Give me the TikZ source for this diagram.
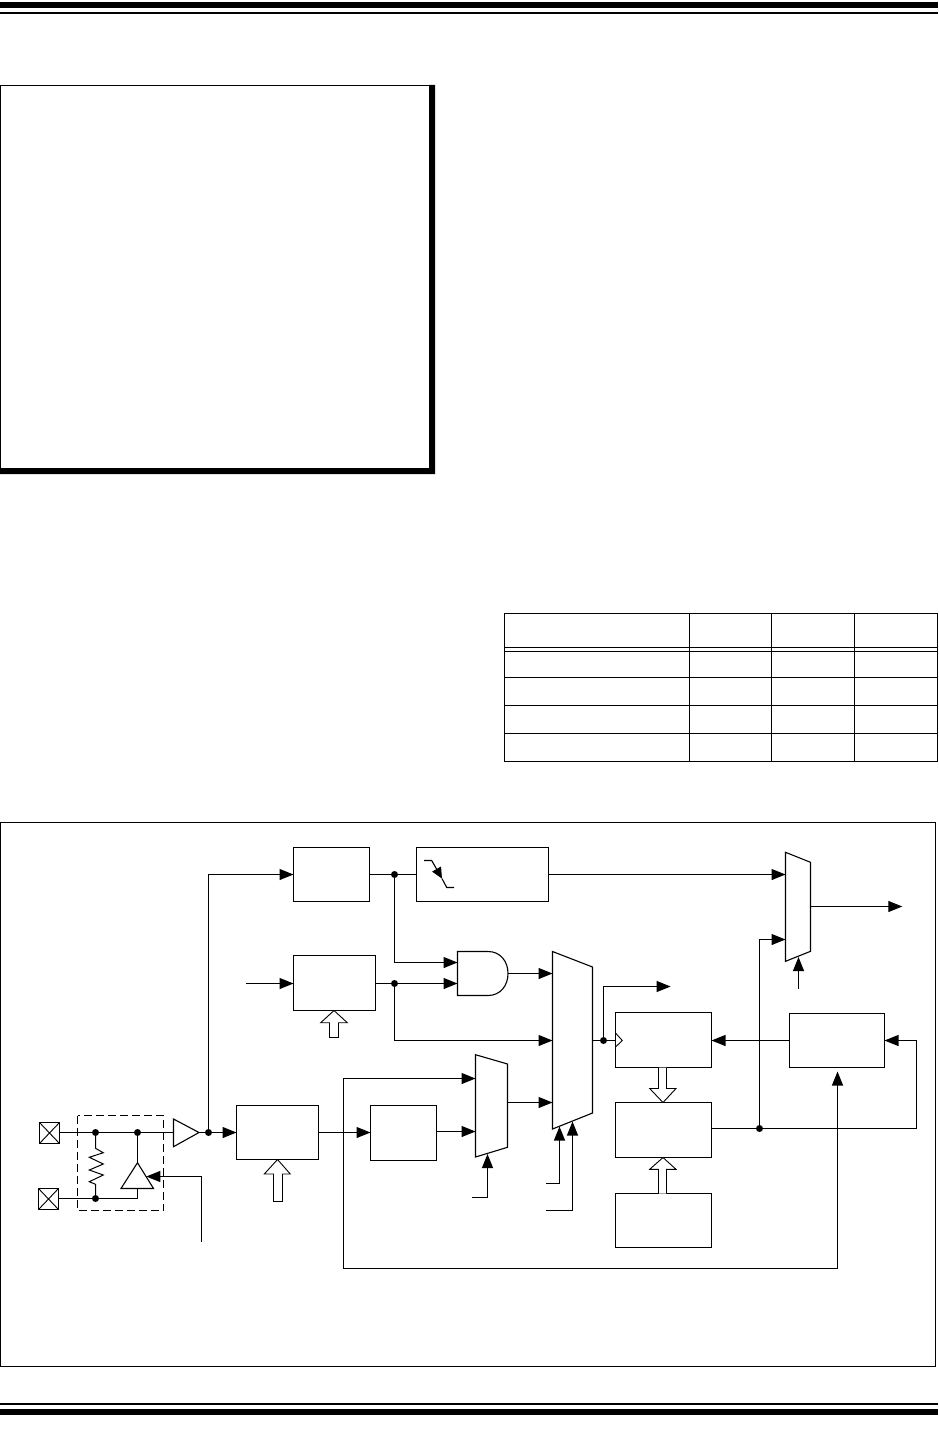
\documentclass[tikz,border=0pt]{standalone}
\usetikzlibrary{arrows.meta}
\begin{document}
\begin{tikzpicture}[x=1pt,y=-1pt,line width=1.1pt,
    blockbox/.style={draw,rectangle,inner sep=0pt,outer sep=0pt},
    junction/.style={circle,fill,inner sep=0pt,outer sep=0pt,minimum size=7pt},
    sig/.style={-{Triangle[length=14pt,width=11pt]}},
    hollow/.style={draw,fill=white,line width=0.9pt}]
  \useasboundingbox (0,0) rectangle (938,1431);

  % Page rules
  \fill (0,2) rectangle (938,8);
  \fill (0,12) rectangle (938,14);
  \fill (0,1403) rectangle (938,1405);
  \fill (0,1409) rectangle (938,1415);

  % Empty boxed panel with a heavy edge
  \draw (429,85.5) -- (0.5,85.5) -- (0.5,468);
  \fill (429,85) -- (435,85) -- (435,474) -- (0,474) -- (0,468) -- (429,468) -- cycle;

  % Table
  \foreach \y in {613.5,647.5,651.5,677.5,705.5,733.5,761.5}{
      \draw (504,\y) -- (938,\y);
    }
  \foreach \x in {504.5,689.5,771.5,854.5,937.5}{
      \draw (\x,613) -- (\x,762);
    }

  % Figure frame
  \draw (0.5,822.5) rectangle (935.5,1366.5);

  % Blocks
  \node[blockbox,minimum width=76pt,minimum height=54pt] (divbox) at (331.5,874.5) {};
  \node[blockbox,minimum width=132pt,minimum height=54pt] (edgebox) at (482.5,874.5) {};
  \node[blockbox,minimum width=82pt,minimum height=55pt] (prebox) at (334.5,983) {};
  \node[blockbox,minimum width=82pt,minimum height=54pt] (inbox) at (277.5,1132.5) {};
  \node[blockbox,minimum width=66pt,minimum height=55pt] (syncbox) at (403.5,1133) {};
  \node[blockbox,minimum width=96pt,minimum height=55pt] (regbox) at (663.5,1040) {};
  \node[blockbox,minimum width=96pt,minimum height=55pt] (cmpbox) at (663.5,1130) {};
  \node[blockbox,minimum width=96pt,minimum height=54pt] (perbox) at (663.5,1220.5) {};
  \node[blockbox,minimum width=95pt,minimum height=54pt] (logicbox) at (837,1040.5) {};

  % Pins
  \node[blockbox,minimum width=20pt,minimum height=21pt] (pinA) at (49.5,1133) {};
  \node[blockbox,minimum width=20pt,minimum height=21pt] (pinB) at (48.5,1199) {};
  \draw[line width=0.9pt] (pinA.north west) -- (pinA.south east) (pinA.north east) -- (pinA.south west);
  \draw[line width=0.9pt] (pinB.north west) -- (pinB.south east) (pinB.north east) -- (pinB.south west);

  % Junctions
  \node[junction] (jA) at (95.5,1132.5) {};
  \node[junction] (jB) at (137.5,1132.5) {};
  \node[junction] (jC) at (95.5,1198.5) {};
  \node[junction] (jD) at (208.5,1132.5) {};
  \node[junction] (jE) at (394.5,874.5) {};
  \node[junction] (jF) at (394.5,983.5) {};
  \node[junction] (jG) at (603.5,1040.5) {};
  \node[junction] (jH) at (759.5,1128.5) {};

  % Multiplexers
  \draw (785.5,852.3) -- (810.5,862.3) -- (810.5,951.3) -- (785.5,961.3) -- cycle;
  \draw (552.5,951.5) -- (592.5,967) -- (592.5,1113) -- (552.5,1129) -- cycle;
  \draw (475.5,1054.7) -- (507.5,1064) -- (507.5,1147.3) -- (475.5,1157) -- cycle;

  % AND gate
  \draw (457.5,951.5) -- (488,951.5) .. controls (500.2,951.5) and (508,961.2) .. (508,973.5)
    .. controls (508,985.8) and (500.2,995.5) .. (488,995.5) -- (457.5,995.5) -- cycle;

  % Input cell
  \draw[dashed,dash pattern=on 8pt off 4pt] (77.5,1115.5) rectangle (163.5,1210.5);
  \draw (173.5,1119) -- (173.5,1146.7) -- (199,1132.5) -- cycle;
  \draw (137.5,1162.7) -- (153.5,1188.5) -- (121,1188.5) -- cycle;
  \draw[line width=1pt] (jA) -- (95.5,1148.3) -- (103.3,1152.7) -- (89.3,1157.3) -- (103.3,1164)
    -- (89.3,1170) -- (103.3,1175) -- (89.3,1181.7) -- (95.5,1184.3) -- (jC);
  \draw (pinA.east |- jA) -- (173.5,1132.5);
  \draw (jB) -- (137.5,1162.7);
  \draw (pinB.east |- jC) -- (jC) -- (137.5,1198.5) -- (137.5,1188.5);
  \coordinate (enA) at (201.5,1241.7);
  \draw[sig] (enA) |- (146.3,1176.5);

  % Clock edge symbol
  \draw[-{Triangle[length=11pt,width=10pt]}] (424,860.5) -- (431.7,860.5) -- (442,878.6);
  \draw (442,878.6) -- (446.7,887.5) -- (454,887.5);

  % Connectors on the left
  \draw[sig] (199,1132.5) -- (inbox.west);
  \draw[sig] (jD) |- (divbox.west);
  \draw (divbox.east) -- (edgebox.west);
  \draw[sig] (jE) |- (457.5,962.5);
  \coordinate (inP) at (246,983.5);
  \draw[sig] (inP) -- (inP -| prebox.west);
  \draw[sig] (inP -| prebox.east) -- (457.5,983.5);
  \draw[sig] (jF) |- (552.5,1040.5);
  \draw[sig] (508,973.5) -- (552.5,973.5);
  \draw[sig] (inbox.east) -- (inbox.east -| syncbox.west);
  \draw[sig] (syncbox.east |- 475.5,1131.5) -- (475.5,1131.5);
  \draw[sig] (507.5,1102.5) -- (552.5,1102.5);

  % Long feedback
  \coordinate (fbA) at (343.5,1132.5);
  \coordinate (fbB) at (837.5,1268.5);
  \draw[sig] (fbA) |- (475.5,1078.5);
  \draw[sig] (fbA) |- (fbB) -- (837.5,1071.5);

  % Select lines
  \coordinate (selA) at (472,1197.5);
  \coordinate (selB) at (546,1183.5);
  \coordinate (selC) at (545.5,1210.5);
  \coordinate (selD) at (798.5,988.7);
  \draw[sig] (selA) -| (487.5,1154);
  \draw[sig] (selB) -| (559.5,1126.5);
  \draw[sig] (selC) -| (572.5,1121.5);
  \draw[sig] (selD) -- (798.5,957);

  % Connectors on the right
  \draw (592.5,1040.5) -- (615.5,1040.5);
  \draw[sig] (jG) |- (670.6,986.5);
  \draw[line width=0.9pt] (615.5,1033) -- (622.3,1040.5) -- (615.5,1047);
  \draw[sig] (logicbox.west) -- (logicbox.west -| regbox.east);
  \draw (cmpbox.east |- jH) -- (jH);
  \coordinate (fbC) at (916.5,1128.5);
  \draw[sig] (jH) -- (fbC) |- (logicbox.east);
  \draw[sig] (jH) |- (785.5,939.5);
  \draw[sig] (edgebox.east) -- (785.5,874.5);
  \draw[sig] (810.5,906.5) -- (902.3,906.5);

  % Bus arrows
  \draw[hollow] (329.5,1037.5) -- (329.5,1022.7) -- (320.7,1022.7) -- (334,1010.5)
    -- (347.3,1022.7) -- (338.5,1022.7) -- (338.5,1037.5) -- cycle;
  \draw[hollow] (273.5,1201.5) -- (273.5,1174) -- (264.3,1174) -- (277.5,1159.5)
    -- (290.3,1174) -- (282.5,1174) -- (282.5,1201.5) -- cycle;
  \draw[hollow] (658.5,1067.5) -- (658.5,1088.5) -- (649.7,1088.5) -- (663,1102.5)
    -- (676,1088.5) -- (666.5,1088.5) -- (666.5,1067.5);
  \draw[hollow] (658.5,1193.5) -- (658.5,1169.3) -- (649.7,1169.3) -- (663,1157.5)
    -- (676,1169.3) -- (666.5,1169.3) -- (666.5,1193.5);
\end{tikzpicture}
\end{document}
